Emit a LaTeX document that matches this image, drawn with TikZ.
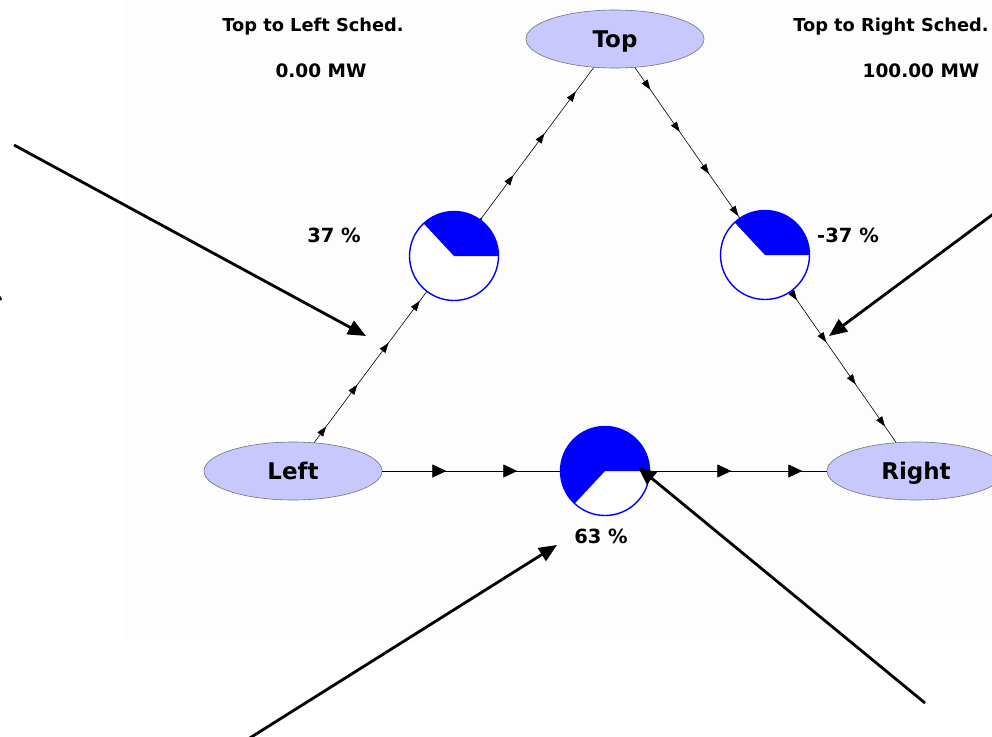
\documentclass[tikz,border=0pt]{standalone}
\usepackage{fontspec}
\setmainfont{DejaVu Sans}
\usetikzlibrary{arrows.meta,shapes.geometric,decorations.markings}
\definecolor{busfill}{RGB}{200,200,255}
\definecolor{panelbg}{RGB}{253,253,253}
\definecolor{pieblue}{RGB}{0,0,255}
\begin{document}
\begin{tikzpicture}[x=1pt,y=-1pt,every node/.style={font=\bfseries},
  bus/.style={ellipse,draw=gray!90!black,line width=0.6pt,fill=busfill,minimum width=178pt,minimum height=58pt,inner sep=0pt,text height=16pt,text depth=0pt,font=\fontsize{23}{26}\selectfont\bfseries},
  pie/.style={circle,draw=pieblue,line width=1.4pt,fill=white,minimum size=89pt,inner sep=0pt},
  pctlabel/.style={font=\fontsize{19.5}{22}\selectfont\bfseries},
  schedlabel/.style={font=\fontsize{17.8}{21}\selectfont\bfseries},
  mwlabel/.style={font=\fontsize{18.5}{21}\selectfont\bfseries},
  diagflow/.style 2 args={line width=0.6pt,postaction={decorate},decoration={markings,
    mark=between positions #1pt and 445pt step #2pt with {\arrow{Triangle[length=10pt,width=7pt]}}}},
  lineflow/.style={line width=0.7pt,postaction={decorate},decoration={markings,
    mark=at position 64pt with {\arrow{Triangle[length=14pt,width=13pt]}},
    mark=at position 135pt with {\arrow{Triangle[length=14pt,width=13pt]}},
    mark=at position 349pt with {\arrow{Triangle[length=14pt,width=13pt]}},
    mark=at position 420pt with {\arrow{Triangle[length=14pt,width=13pt]}}}},
  callout/.style={line width=2.8pt,-{Triangle[length=18pt,width=15pt]}}]
\useasboundingbox (0,0) rectangle (992,736);
\fill[panelbg] (126,0) rectangle (992,641);
% buses
\node[bus] (top) at (615,39) {Top};
\node[bus] (left) at (293,471) {Left};
\node[bus] (right) at (916,471) {Right};
% flows
\draw[diagflow={20}{52.2}] (left) -- (top);
\draw[diagflow={27}{51.3}] (top) -- (right);
\draw[lineflow] (left) -- (right);
% line loading pies
\foreach \p/\cx/\cy/\ang in {pieL/454/256/133,pieR/765/255/133,pieB/605/471/227} {
  \node[pie] (\p) at (\cx,\cy) {};
  \fill[pieblue] (\p.center) -- ++(0:44.5) arc (0:-\ang:44.5) -- cycle;
}
\node[pctlabel] (pctL) at (334,235) {37 \%};
\node[pctlabel] (pctR) at (848,235) {-37 \%};
\node[pctlabel] (pctB) at (601,536) {63 \%};
% schedules
\node[schedlabel] (schedTL) at (313,27) {Top to Left Sched.};
\node[mwlabel] (mwTL) at (321,71) {0.00 MW};
\node[schedlabel] (schedTR) at (891,27) {Top to Right Sched.};
\node[mwlabel] (mwTR) at (921,71) {100.00 MW};
% callout arrows
\coordinate (c1a) at (14,145); \coordinate (c1b) at (366,336);
\coordinate (c2a) at (1000,209); \coordinate (c2b) at (829,336);
\coordinate (c3a) at (245,741); \coordinate (c3b) at (557,545);
\coordinate (c4a) at (925,703); \coordinate (c4b) at (638,467);
\coordinate (c5a) at (-4,292); \coordinate (c5b) at (1,300);
\draw[callout] (c1a) -- (c1b);
\draw[callout] (c2a) -- (c2b);
\draw[callout] (c3a) -- (c3b);
\draw[callout] (c4a) -- (c4b);
\draw[line width=2.8pt] (c5a) -- (c5b);
\end{tikzpicture}
\end{document}
